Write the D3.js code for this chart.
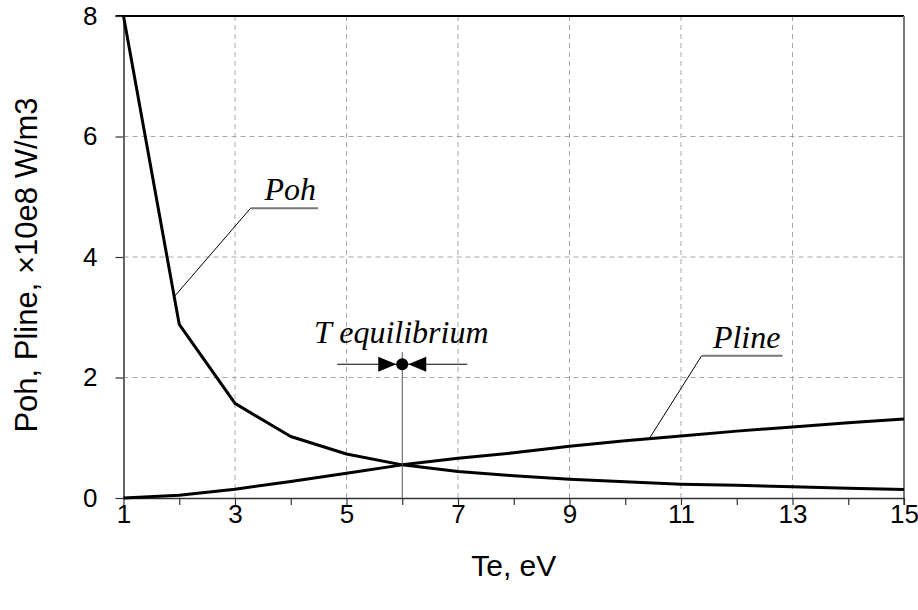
<!DOCTYPE html>
<html>
<head>
<meta charset="utf-8">
<script src="https://cdn.jsdelivr.net/npm/d3@7/dist/d3.min.js"></script>
<style>
  html, body { margin: 0; padding: 0; background: #fff; }
  svg { display: block; }
</style>
</head>
<body>
<svg id="chart" width="918" height="610"></svg>
<script>
// Electron temperature, eV
const te = [1, 2, 3, 4, 5, 6, 7, 8, 9, 10, 11, 12, 13, 14, 15];
// Ohmic heating power, x10e8 W/m3
const poh = [8.0, 2.88, 1.57, 1.02, 0.73, 0.55, 0.44, 0.37, 0.31, 0.27, 0.23, 0.21, 0.185, 0.16, 0.14];
// Line radiation power, x10e8 W/m3
const pline = [0.0, 0.045, 0.145, 0.275, 0.41, 0.55, 0.66, 0.75, 0.86, 0.95, 1.03, 1.11, 1.18, 1.25, 1.31];

const xTicks = [1, 3, 5, 7, 9, 11, 13, 15];
const xMinorTicks = d3.range(1, 16);
const yTicks = [0, 2, 4, 6, 8];

const svg = d3.select("#chart");
const x = d3.scaleLinear().domain([1, 15]).range([123.5, 904]);
const y = d3.scaleLinear().domain([0, 8]).range([498, 16]);

const sans = "'Liberation Sans', Arial, sans-serif";
const serif = "'Liberation Serif', 'Times New Roman', serif";

// dashed grid
const grid = svg.append("g");
grid.selectAll("line.gx").data(xTicks.slice(1, -1)).join("line")
  .attr("x1", d => x(d)).attr("x2", d => x(d))
  .attr("y1", y(8)).attr("y2", y(0))
  .attr("stroke", "#a8a8a8").attr("stroke-width", 1).attr("stroke-dasharray", "5,4");
grid.selectAll("line.gy").data(yTicks.slice(1, -1)).join("line")
  .attr("x1", x(1)).attr("x2", x(15))
  .attr("y1", d => y(d)).attr("y2", d => y(d))
  .attr("stroke", "#a8a8a8").attr("stroke-width", 1).attr("stroke-dasharray", "5,4");

// frame: top and right edges
svg.append("line").attr("x1", x(1) - 8).attr("x2", x(15)).attr("y1", y(8)).attr("y2", y(8))
  .attr("stroke", "#000").attr("stroke-width", 2);
svg.append("line").attr("x1", x(15)).attr("x2", x(15)).attr("y1", y(8)).attr("y2", y(0) + 7)
  .attr("stroke", "#777").attr("stroke-width", 2);

// x axis: ticks at every integer, labels on odd values
const xAxis = d3.axisBottom(x).tickValues(xMinorTicks).tickSize(7).tickSizeOuter(0)
  .tickFormat(d => xTicks.includes(d) ? d : "");
const gx = svg.append("g").attr("transform", `translate(0,${y(0)})`).call(xAxis);
gx.select(".domain").attr("stroke", "#333").attr("stroke-width", 1.5);
gx.selectAll(".tick line").attr("stroke", "#333").attr("stroke-width", 1.2);
gx.selectAll(".tick text").attr("font-family", sans).attr("font-size", 26)
  .attr("fill", "#000").attr("dy", "0").attr("y", 25);

// y axis
const yAxis = d3.axisLeft(y).tickValues(yTicks).tickSize(8).tickSizeOuter(0);
const gy = svg.append("g").attr("transform", `translate(${x(1)},0)`).call(yAxis);
gy.select(".domain").attr("stroke", "#666").attr("stroke-width", 2);
gy.selectAll(".tick line").attr("stroke", "#333").attr("stroke-width", 1.2);
gy.selectAll(".tick text").attr("font-family", sans).attr("font-size", 26)
  .attr("fill", "#000").attr("x", -26);

// axis titles
svg.append("text").attr("x", (x(1) + x(15)) / 2).attr("y", 576)
  .attr("text-anchor", "middle").attr("font-family", sans).attr("font-size", 30)
  .text("Te, eV");
svg.append("text").attr("transform", `translate(37,265) rotate(-90)`)
  .attr("text-anchor", "middle").attr("font-family", sans).attr("font-size", 31)
  .text("Poh, Pline, \u00d710e8 W/m3");

// curves
const line = d3.line().x(d => x(d[0])).y(d => y(d[1]));
svg.append("path").datum(te.map((t, i) => [t, poh[i]])).attr("d", line)
  .attr("fill", "none").attr("stroke", "#000").attr("stroke-width", 3).attr("stroke-linejoin", "round");
svg.append("path").datum(te.map((t, i) => [t, pline[i]])).attr("d", line)
  .attr("fill", "none").attr("stroke", "#000").attr("stroke-width", 3).attr("stroke-linejoin", "round");

// value of a series at an arbitrary Te (linear between points)
function valueAt(series, t) {
  const i = Math.min(te.length - 2, Math.max(0, d3.bisectRight(te, t) - 1));
  const f = (t - te[i]) / (te[i + 1] - te[i]);
  return series[i] + f * (series[i + 1] - series[i]);
}

// callout with a leader to the curve and an underlined italic label
function callout(series, tOnCurve, elbow, underlineEnd, label) {
  const g = svg.append("g");
  g.append("line")
    .attr("x1", x(tOnCurve)).attr("y1", y(valueAt(series, tOnCurve)))
    .attr("x2", x(elbow[0])).attr("y2", y(elbow[1]))
    .attr("stroke", "#000").attr("stroke-width", 1);
  g.append("line")
    .attr("x1", x(elbow[0])).attr("y1", y(elbow[1]))
    .attr("x2", x(underlineEnd)).attr("y2", y(elbow[1]))
    .attr("stroke", "#777").attr("stroke-width", 2);
  g.append("text")
    .attr("x", x(underlineEnd) - 2).attr("y", y(elbow[1]) - 8)
    .attr("text-anchor", "end")
    .attr("font-family", serif).attr("font-style", "italic").attr("font-size", 32)
    .text(label);
}
callout(poh, 1.91, [3.28, 4.81], 4.49, "Poh");
callout(pline, 10.43, [11.37, 2.36], 12.82, "Pline");

// equilibrium marker
const eqT = 6, eqY = 2.22;
const ex = x(eqT), ey = y(eqY);
const eq = svg.append("g");
eq.append("line").attr("x1", ex).attr("x2", ex).attr("y1", ey - 12).attr("y2", y(0))
  .attr("stroke", "#555").attr("stroke-width", 1);
eq.append("line").attr("x1", ex - 65).attr("x2", ex + 65).attr("y1", ey).attr("y2", ey)
  .attr("stroke", "#000").attr("stroke-width", 1);
eq.append("path")
  .attr("d", `M${ex - 6},${ey} L${ex - 24},${ey - 7.5} L${ex - 24},${ey + 7.5} Z`)
  .attr("fill", "#000");
eq.append("path")
  .attr("d", `M${ex + 6},${ey} L${ex + 24},${ey - 7.5} L${ex + 24},${ey + 7.5} Z`)
  .attr("fill", "#000");
eq.append("circle").attr("cx", ex).attr("cy", ey).attr("r", 6).attr("fill", "#000");
eq.append("text").attr("x", ex - 1).attr("y", ey - 21).attr("text-anchor", "middle")
  .attr("font-family", serif).attr("font-style", "italic").attr("font-size", 32)
  .text("T equilibrium");
</script>
</body>
</html>
